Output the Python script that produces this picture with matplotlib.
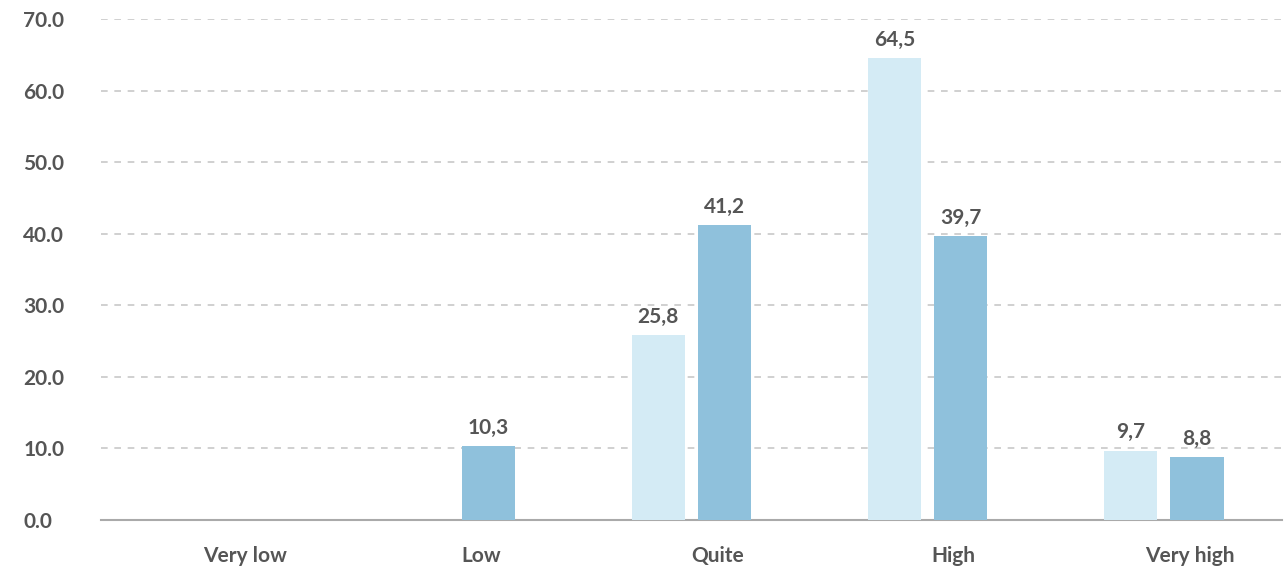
import matplotlib.pyplot as plt
import matplotlib.transforms as mtransforms
import numpy as np

categories = ["Very low", "Low", "Quite", "High", "Very high"]
series_a = [0, 0, 25.8, 64.5, 9.7]
series_b = [0, 10.3, 41.2, 39.7, 8.8]
yticks = [0, 10, 20, 30, 40, 50, 60, 70]

color_a = "#d4ebf5"
color_b = "#8fc1dc"
text_color = "#555555"
font = ["Lato", "DejaVu Sans"]
fsize = 15

fig = plt.figure(figsize=(12.86, 5.71), dpi=100)
ax = fig.add_axes([0.0785, 0.0893, 0.9184, 0.8774])

x = np.arange(len(categories))
width = 0.225
offset = 0.14

def label_bars(bars, values):
    for b, v in zip(bars, values):
        if v > 0:
            ax.annotate(f"{v:.1f}".replace(".", ","),
                        (b.get_x() + b.get_width() / 2, v),
                        xytext=(0, 6), textcoords="offset points",
                        ha="center", va="bottom", fontsize=fsize,
                        fontweight="bold", color=text_color, family=font)

bars_a = ax.bar(x - offset, series_a, width, color=color_a, zorder=3)
bars_b = ax.bar(x + offset, series_b, width, color=color_b, zorder=3)
label_bars(bars_a, series_a)
label_bars(bars_b, series_b)

ax.set_xlim(-0.5, len(categories) - 0.5)
ax.set_ylim(0, 70)
ax.set_yticks(yticks)
ax.set_yticklabels([f"{t:.1f}" for t in yticks])
ax.yaxis.grid(True, linestyle=(0, (4, 4)), color="#c8c8c8", linewidth=1.2, zorder=0)
ax.set_axisbelow(True)

for s in ["top", "right", "left"]:
    ax.spines[s].set_visible(False)
ax.spines["bottom"].set_color("#aaaaaa")
ax.spines["bottom"].set_linewidth(1.5)

ax.tick_params(axis="both", length=0)
ax.tick_params(axis="y", pad=56)
for lbl in ax.get_yticklabels():
    lbl.set_horizontalalignment("left")
    lbl.set_fontsize(fsize)
    lbl.set_fontweight("bold")
    lbl.set_color(text_color)
    lbl.set_family(font)

ax.set_xticks(x)
ax.set_xticklabels(categories)
shift = mtransforms.ScaledTranslation(26 / 100, 0, fig.dpi_scale_trans)
ax.tick_params(axis="x", pad=19)
for lbl in ax.get_xticklabels():
    lbl.set_fontsize(fsize)
    lbl.set_fontweight("bold")
    lbl.set_color(text_color)
    lbl.set_family(font)
    lbl.set_transform(lbl.get_transform() + shift)

fig.savefig("out.png", dpi=100, facecolor="white")
